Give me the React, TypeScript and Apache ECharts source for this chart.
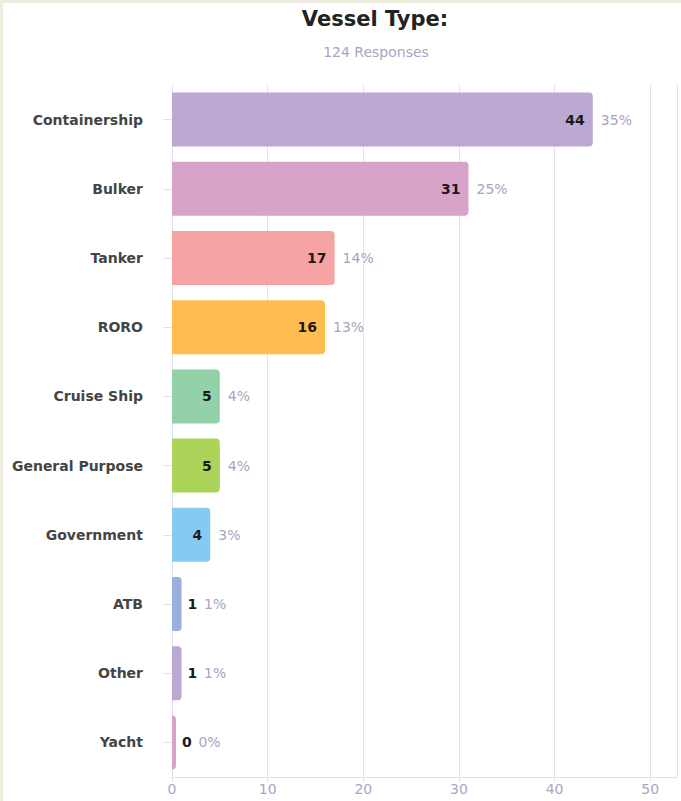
import React, { useEffect, useRef } from "react";
import * as echarts from "echarts";

const categories = ["Containership", "Bulker", "Tanker", "RORO", "Cruise Ship", "General Purpose", "Government", "ATB", "Other", "Yacht"];
const counts = [44, 31, 17, 16, 5, 5, 4, 1, 1, 0];
const percents = ["35%", "25%", "14%", "13%", "4%", "4%", "3%", "1%", "1%", "0%"];
const colors = ["#bba8d3", "#d8a3c9", "#f5a3a3", "#ffbd50", "#93d2a9", "#acd45b", "#85caf0", "#9aafdd", "#bba8d3", "#d8a3c9"];
const xTicks = [0, 10, 20, 30, 40, 50];
const titleText = "Vessel Type:";
const subtitleText = "124 Responses";

const FONT = "DejaVu Sans";

export default function App() {
  const ref = useRef<HTMLDivElement>(null);
  useEffect(() => {
    if (!ref.current) return;
    const chart = echarts.init(ref.current, undefined, { renderer: "svg" });
    const inside = (v: number) => v >= 4;
    chart.setOption({
      animation: false,
      backgroundColor: "#ffffff",
      title: [
        {
          text: titleText,
          left: 367,
          top: 0,
          textAlign: "center",
          textStyle: { fontFamily: FONT, fontSize: 21, fontWeight: "bold", color: "#222222" },
        },
        {
          text: subtitleText,
          left: 368,
          top: 37,
          textAlign: "center",
          textStyle: { fontFamily: FONT, fontSize: 14, fontWeight: "normal", color: "#a7a4c2" },
        },
      ],
      grid: { left: 169, right: 4, top: 82, bottom: 24, containLabel: false },
      xAxis: {
        type: "value",
        min: 0,
        max: 52.8,
        interval: 10,
        axisLine: { show: true, lineStyle: { color: "#e2e0ef" } },
        axisTick: { show: true, length: 5, lineStyle: { color: "#e2e0ef" } },
        splitLine: { show: true, lineStyle: { color: "#e2e0ef", width: 1 } },
        axisLabel: {
          fontFamily: FONT,
          fontSize: 14,
          color: "#a9a6c4",
          margin: 5,
          showMaxLabel: false,
          formatter: (v: number) => (xTicks.includes(v) ? String(v) : ""),
        },
      },
      yAxis: {
        type: "category",
        inverse: true,
        data: categories,
        axisLine: { show: true, lineStyle: { color: "#e2e0ef" } },
        axisTick: { show: true, length: 9, alignWithLabel: true, lineStyle: { color: "#e2e0ef" } },
        axisLabel: {
          fontFamily: FONT,
          fontSize: 14,
          fontWeight: "bold",
          color: "#444444",
          margin: 29,
        },
      },
      series: [
        {
          type: "bar",
          barCategoryGap: "22%",
          barMinHeight: 4,
          data: counts.map((v, i) => ({
            value: v,
            itemStyle: { color: colors[i], borderRadius: [0, 4, 4, 0] },
            label: {
              show: inside(v),
              position: "insideRight",
              distance: 8,
              formatter: String(v),
              fontFamily: FONT,
              fontSize: 14,
              fontWeight: "bold",
              color: "#1a1a1a",
            },
          })),
          z: 2,
        },
        {
          type: "bar",
          barGap: "-100%",
          barCategoryGap: "22%",
          barMinHeight: 4,
          silent: true,
          data: counts.map((v, i) => ({
            value: v,
            itemStyle: { color: "rgba(0,0,0,0)" },
            label: {
              show: true,
              position: "right",
              distance: inside(v) ? 8 : 6,
              formatter: inside(v) ? "{p|" + percents[i] + "}" : "{v|" + v + "}  {p|" + percents[i] + "}",
              rich: {
                v: { fontFamily: FONT, fontSize: 14, fontWeight: "bold", color: "#1a1a1a" },
                p: { fontFamily: FONT, fontSize: 14, color: "#a7a4c0" },
              },
            },
          })),
          z: 3,
        },
      ],
    });
    return () => chart.dispose();
  }, []);

  return (
    <div style={{ position: "fixed", left: 0, top: 0, width: 681, height: 801, background: "#efece0" }}>
      <div ref={ref} style={{ position: "absolute", left: 3, top: 3, width: 678, height: 798 }} />
    </div>
  );
}
